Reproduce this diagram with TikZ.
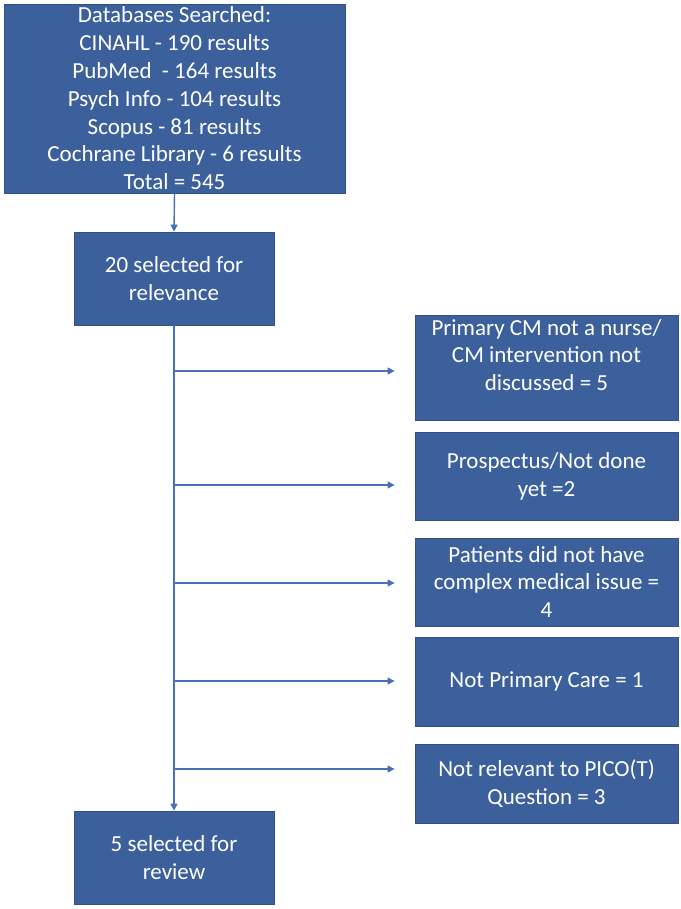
\documentclass[tikz,border=0pt]{standalone}
\usepackage{fontspec}
\setmainfont{Carlito}
\usetikzlibrary{arrows.meta}
\definecolor{boxfill}{RGB}{59,96,156}
\definecolor{boxline}{RGB}{47,82,140}
\definecolor{linecol}{RGB}{72,112,186}
\begin{document}
\begin{tikzpicture}[x=1pt,y=-1pt,
  box/.style={draw=boxline, line width=0.8pt, fill=boxfill, text=white, align=center,
    inner sep=0pt, font=\fontsize{23}{27.8}\selectfont},
  conn/.style={draw=linecol, line width=1.4pt, -{Triangle[length=7pt,width=7pt]}},
  plainline/.style={draw=linecol, line width=1.4pt}]
\useasboundingbox[fill=white] (0,0) rectangle (680,909);
\node[box, minimum width=341pt, minimum height=189pt] (db) at (174.5,98.5)
  {Databases Searched:\\CINAHL - 190 results\\PubMed\ \ - 164 results\\Psych Info - 104 results\\Scopus - 81 results\\Cochrane Library - 6 results\\Total = 545};
\node[box, minimum width=200pt, minimum height=93pt] (sel) at (174,278.5)
  {20 selected for\\relevance};
\node[box, minimum width=200pt, minimum height=93pt] (rev) at (174,857.5)
  {5 selected for\\review};
\node[box, minimum width=263pt, minimum height=105pt] (r1) at (546.5,367.5)
  {Primary CM not a nurse/\\CM intervention not\\discussed = 5\rule[-25pt]{0pt}{25pt}};
\node[box, minimum width=263pt, minimum height=88pt] (r2) at (546.5,476)
  {Prospectus/Not done\\yet =2};
\node[box, minimum width=263pt, minimum height=88pt] (r3) at (546.5,582)
  {Patients did not have\\complex medical issue =\\4};
\node[box, minimum width=263pt, minimum height=89pt] (r4) at (546.5,681.5)
  {Not Primary Care = 1};
\node[box, minimum width=263pt, minimum height=79pt] (r5) at (546.5,783.5)
  {Not relevant to PICO(T)\\Question = 3};
\coordinate (b1) at (174,371);
\coordinate (b2) at (174,485);
\coordinate (b3) at (174,583);
\coordinate (b4) at (174,681);
\coordinate (b5) at (174,769);
\draw[conn] (db.south) -- (sel.north);
\draw[conn] (sel.south) -- (rev.north);
\draw[conn, shorten >=20pt] (b1) -- (b1 -| r1.west);
\draw[conn, shorten >=20pt] (b2) -- (b2 -| r2.west);
\draw[conn, shorten >=20pt] (b3) -- (b3 -| r3.west);
\draw[conn, shorten >=20pt] (b4) -- (b4 -| r4.west);
\draw[conn, shorten >=20pt] (b5) -- (b5 -| r5.west);
\end{tikzpicture}
\end{document}
